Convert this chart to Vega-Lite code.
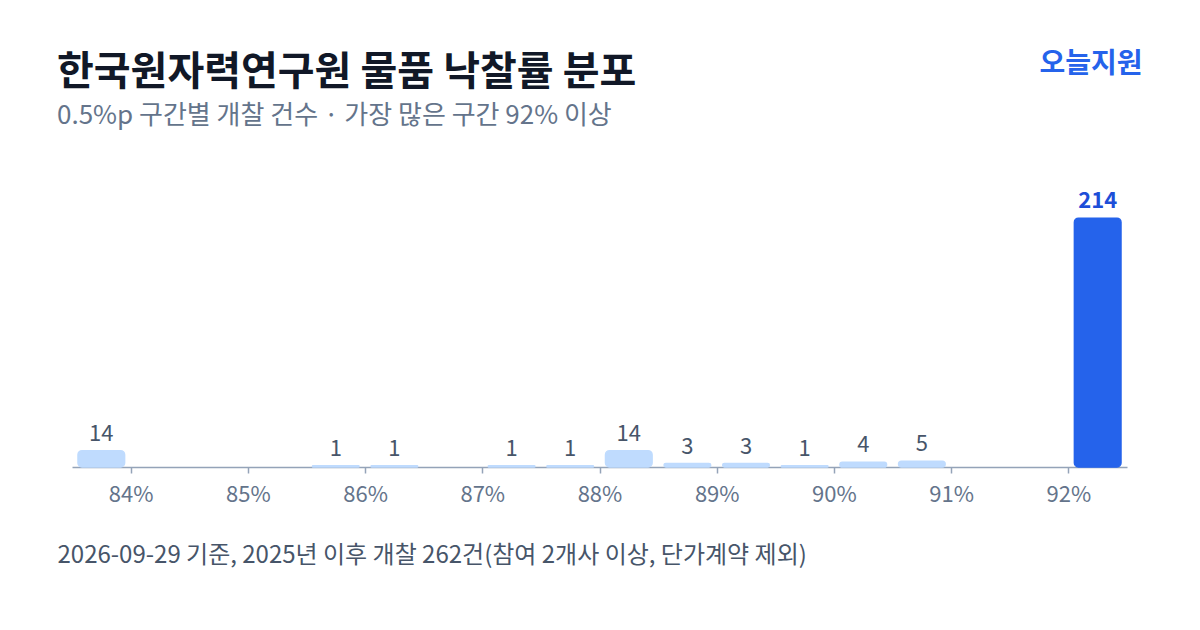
{
  "$schema": "https://vega.github.io/schema/vega-lite/v6.json",
  "width": 1055,
  "height": 300,
  "autosize": "none",
  "padding": {"left": 72, "top": 167, "right": 73, "bottom": 163},
  "background": "#ffffff",
  "config": {
    "font": "Noto Sans CJK KR",
    "view": {"stroke": null}
  },
  "title": {
    "text": "한국원자력연구원 물품 낙찰률 분포",
    "subtitle": "0.5%p 구간별 개찰 건수 · 가장 많은 구간 92% 이상",
    "anchor": "start",
    "frame": "group",
    "dx": -15,
    "offset": -79,
    "fontSize": 40,
    "fontWeight": "bold",
    "color": "#111827",
    "subtitleFontSize": 26,
    "subtitleColor": "#64748b",
    "subtitlePadding": 10
  },
  "data": {
    "values": [
      {"start": 83.5, "end": 84.0, "count": 14},
      {"start": 85.5, "end": 86.0, "count": 1},
      {"start": 86.0, "end": 86.5, "count": 1},
      {"start": 87.0, "end": 87.5, "count": 1},
      {"start": 87.5, "end": 88.0, "count": 1},
      {"start": 88.0, "end": 88.5, "count": 14},
      {"start": 88.5, "end": 89.0, "count": 3},
      {"start": 89.0, "end": 89.5, "count": 3},
      {"start": 89.5, "end": 90.0, "count": 1},
      {"start": 90.0, "end": 90.5, "count": 4},
      {"start": 90.5, "end": 91.0, "count": 5},
      {"start": 92.0, "end": 92.5, "count": 214}
    ]
  },
  "encoding": {
    "x": {
      "field": "start",
      "type": "quantitative",
      "scale": {"domain": [83.5, 92.5], "nice": false, "zero": false},
      "axis": {
        "values": [84, 85, 86, 87, 88, 89, 90, 91, 92],
        "labelExpr": "datum.value + '%'",
        "grid": false,
        "domainColor": "#94a3b8",
        "domainWidth": 1.5,
        "tickColor": "#94a3b8",
        "tickWidth": 1.5,
        "tickSize": 6,
        "labelFontSize": 22,
        "labelColor": "#64748b",
        "labelPadding": 11,
        "title": "2026-09-29 기준, 2025년 이후 개찰 262건(참여 2개사 이상, 단가계약 제외)",
        "titleAnchor": "start",
        "titleAlign": "left",
        "titleBaseline": "middle",
        "titleX": -15,
        "titleY": 88,
        "titleFontSize": 24,
        "titleFontWeight": "normal",
        "titleColor": "#475569"
      }
    },
    "y": {
      "field": "count",
      "type": "quantitative",
      "scale": {"domain": [0, 258], "nice": false},
      "axis": {
        "orient": "right",
        "domain": false,
        "ticks": false,
        "labels": false,
        "grid": false,
        "title": "오늘지원",
        "titleAngle": 0,
        "titleAlign": "right",
        "titleBaseline": "middle",
        "titleX": 15,
        "titleY": -103,
        "titleFontSize": 28,
        "titleFontWeight": "bold",
        "titleColor": "#2563eb"
      }
    }
  },
  "layer": [
    {
      "mark": {"type": "bar", "xOffset": 6, "x2Offset": -6, "cornerRadius": 4, "strokeWidth": 1.5},
      "encoding": {
        "x2": {"field": "end"},
        "y2": {"datum": 0},
        "color": {
          "condition": {"test": "datum.start >= 92", "value": "#2563eb"},
          "value": "#bfdbfe"
        },
        "stroke": {
          "condition": {"test": "datum.start >= 92", "value": "#2563eb"},
          "value": "#bfdbfe"
        }
      }
    },
    {
      "transform": [{"filter": "datum.start < 92"}],
      "mark": {"type": "text", "dx": 29.3, "dy": -10, "baseline": "alphabetic", "fontSize": 22, "color": "#475569"},
      "encoding": {
        "text": {"field": "count", "type": "quantitative"}
      }
    },
    {
      "transform": [{"filter": "datum.start >= 92"}],
      "mark": {"type": "text", "dx": 29.3, "dy": -10, "baseline": "alphabetic", "fontSize": 22, "fontWeight": "bold", "color": "#1d4ed8"},
      "encoding": {
        "text": {"field": "count", "type": "quantitative"}
      }
    }
  ]
}
